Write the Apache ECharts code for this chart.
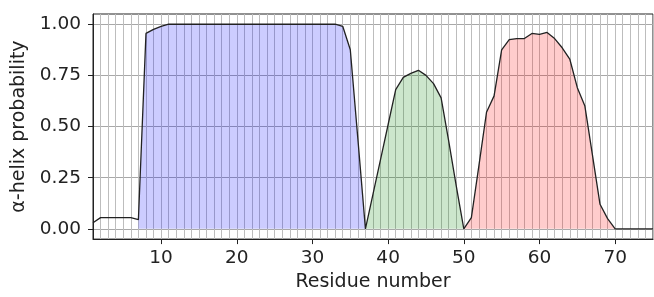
<!DOCTYPE html>
<html>
<head>
<meta charset="utf-8">
<script src="https://cdn.jsdelivr.net/npm/echarts@6/dist/echarts.min.js"></script>
<style>
  html, body { margin: 0; padding: 0; background: #fff; }
  #chart { width: 654px; height: 297px; }
</style>
</head>
<body>
<div id="chart"></div>
<script>
// alpha-helix probability per residue, starting at residue 1
const firstResidue = 1
const helixProb = [
    0.03, 0.055, 0.055, 0.055, 0.055, 0.055, 0.045, 0.955, 0.975, 0.99,
    1, 1, 1, 1, 1, 1, 1, 1, 1, 1,
    1, 1, 1, 1, 1, 1, 1, 1, 1, 1,
    1, 1, 1, 0.99, 0.875, 0.44, 0.0, 0.17, 0.34, 0.51,
    0.68, 0.74, 0.76, 0.775, 0.75, 0.71, 0.64, 0.43, 0.21, 0.0,
    0.055, 0.31, 0.57, 0.65, 0.875, 0.925, 0.93, 0.93, 0.955, 0.95,
    0.96, 0.93, 0.885, 0.83, 0.69, 0.6, 0.36, 0.12, 0.05, 0.0,
    0.0, 0.0, 0.0, 0.0, 0.0
]

// shaded helix segments [from residue, to residue]
const blueSegment = [7, 37]
const greenSegment = [37, 50]
const redSegment = [50, 70]

const xTicks = [10, 20, 30, 40, 50, 60, 70]
const yTicks = [0, 0.25, 0.5, 0.75, 1]

const points = helixProb.map((v, i) => [i + firstResidue, v])

function segmentPoints(seg) {
    return points.filter(p => p[0] >= seg[0] && p[0] <= seg[1])
}

function areaSeries(seg, color) {
    return {
        type: 'line',
        xAxisIndex: 1,
        data: segmentPoints(seg),
        showSymbol: false,
        symbol: 'none',
        lineStyle: { width: 0 },
        areaStyle: { color: color, opacity: 1 },
        silent: true,
        z: 2
    }
}

const font = 'DejaVu Sans'
let myChart = echarts.init(document.getElementById('chart'))

let option = {
    animation: false,
    backgroundColor: '#ffffff',
    grid: {
        left: 93, right: 1, top: 14, bottom: 54,
        show: true,
        borderColor: '#222',
        borderWidth: 1
    },
    xAxis: [
        {
            // one thin grid line per residue
            type: 'value',
            position: 'bottom',
            min: 1, max: 75, interval: 1,
            axisLine: { show: false },
            axisTick: { show: false },
            axisLabel: { show: false },
            splitLine: { show: true, lineStyle: { color: '#bdbdbd', width: 1 } }
        },
        {
            type: 'value',
            position: 'bottom',
            min: 1, max: 75,
            name: 'Residue number',
            nameLocation: 'middle',
            nameGap: 32,
            nameTextStyle: { fontFamily: font, fontSize: 19, color: '#222' },
            axisLine: { show: true, onZero: false, lineStyle: { color: '#222', width: 1 } },
            axisTick: { show: true, length: 5, customValues: xTicks, lineStyle: { color: '#222' } },
            axisLabel: { customValues: xTicks, margin: 10, fontFamily: font, fontSize: 18.5, color: '#222' },
            splitLine: { show: false }
        }
    ],
    yAxis: {
        type: 'value',
        min: -0.05, max: 1.05,
        name: 'α-helix probability',
        nameLocation: 'middle',
        nameGap: 55,
        nameTextStyle: { fontFamily: font, fontSize: 19, color: '#222' },
        axisLine: { show: true, lineStyle: { color: '#222', width: 1 } },
        axisTick: { show: true, length: 5, customValues: yTicks, lineStyle: { color: '#222' } },
        axisLabel: {
            customValues: yTicks, margin: 12, fontFamily: font, fontSize: 18.5, color: '#222',
            formatter: v => v.toFixed(2)
        },
        splitLine: { show: true, lineStyle: { color: '#a8a8a8', width: 1 } }
    },
    series: [
        areaSeries(blueSegment, 'rgba(0,0,255,0.2)'),
        areaSeries(greenSegment, 'rgba(0,128,0,0.2)'),
        areaSeries(redSegment, 'rgba(255,0,0,0.2)'),
        {
            type: 'line',
            xAxisIndex: 1,
            data: points,
            showSymbol: false,
            symbol: 'none',
            lineStyle: { color: '#222', width: 1.3 },
            z: 3
        }
    ]
}
myChart.setOption(option)
</script>
</body>
</html>
